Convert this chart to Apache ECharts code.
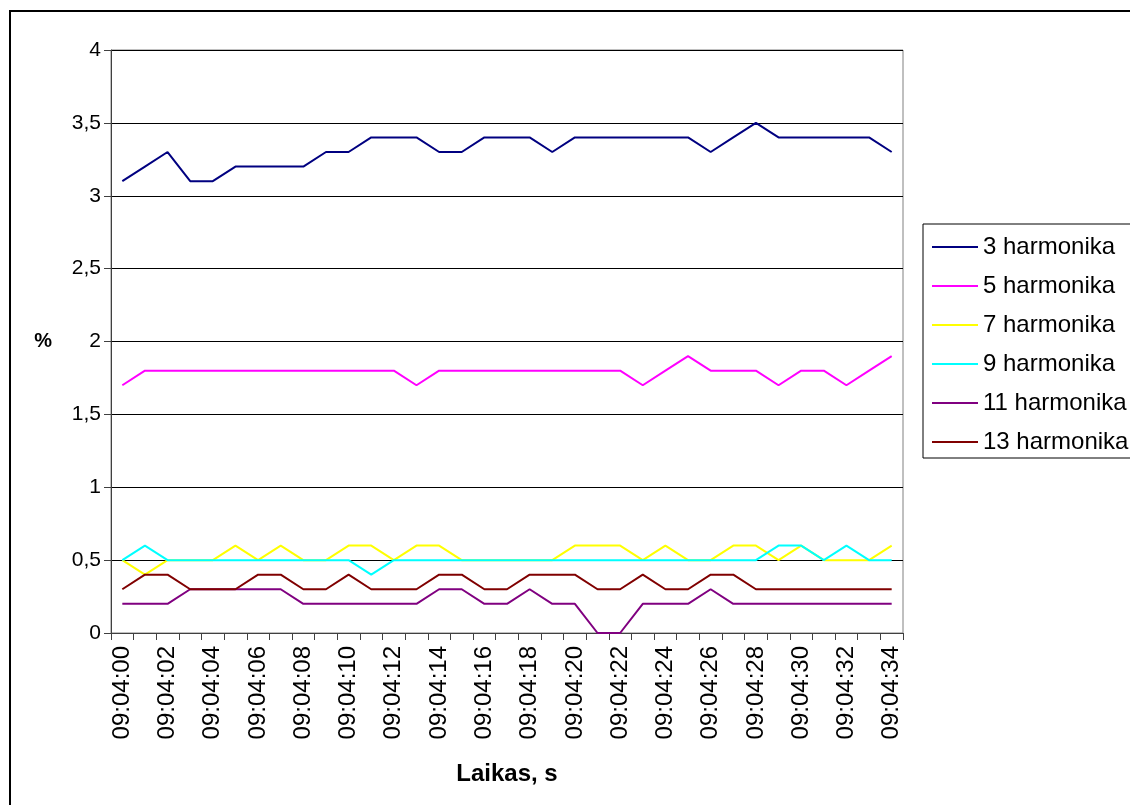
<!DOCTYPE html>
<html>
<head>
<meta charset="utf-8">
<script src="https://cdn.jsdelivr.net/npm/echarts@6/dist/echarts.min.js"></script>
<style>
html,body{margin:0;padding:0;background:#fff;overflow:hidden;}
#frame{position:absolute;left:9px;top:10px;width:1300px;height:1000px;border:2px solid #000;box-sizing:border-box;}
#chart{position:absolute;left:0;top:0;width:1200px;height:805px;}
</style>
</head>
<body>
<div id="frame"></div>
<div id="chart"></div>
<script>
const categories = ["09:04:00","09:04:01","09:04:02","09:04:03","09:04:04","09:04:05","09:04:06","09:04:07","09:04:08","09:04:09",
"09:04:10","09:04:11","09:04:12","09:04:13","09:04:14","09:04:15","09:04:16","09:04:17","09:04:18","09:04:19",
"09:04:20","09:04:21","09:04:22","09:04:23","09:04:24","09:04:25","09:04:26","09:04:27","09:04:28","09:04:29",
"09:04:30","09:04:31","09:04:32","09:04:33","09:04:34"];

const h3  = [3.1,3.2,3.3,3.1,3.1,3.2,3.2,3.2,3.2,3.3,3.3,3.4,3.4,3.4,3.3,3.3,3.4,3.4,3.4,3.3,3.4,3.4,3.4,3.4,3.4,3.4,3.3,3.4,3.5,3.4,3.4,3.4,3.4,3.4,3.3];
const h5  = [1.7,1.8,1.8,1.8,1.8,1.8,1.8,1.8,1.8,1.8,1.8,1.8,1.8,1.7,1.8,1.8,1.8,1.8,1.8,1.8,1.8,1.8,1.8,1.7,1.8,1.9,1.8,1.8,1.8,1.7,1.8,1.8,1.7,1.8,1.9];
const h7  = [0.5,0.4,0.5,0.5,0.5,0.6,0.5,0.6,0.5,0.5,0.6,0.6,0.5,0.6,0.6,0.5,0.5,0.5,0.5,0.5,0.6,0.6,0.6,0.5,0.6,0.5,0.5,0.6,0.6,0.5,0.6,0.5,0.5,0.5,0.6];
const h9  = [0.5,0.6,0.5,0.5,0.5,0.5,0.5,0.5,0.5,0.5,0.5,0.4,0.5,0.5,0.5,0.5,0.5,0.5,0.5,0.5,0.5,0.5,0.5,0.5,0.5,0.5,0.5,0.5,0.5,0.6,0.6,0.5,0.6,0.5,0.5];
const h11 = [0.2,0.2,0.2,0.3,0.3,0.3,0.3,0.3,0.2,0.2,0.2,0.2,0.2,0.2,0.3,0.3,0.2,0.2,0.3,0.2,0.2,0,0,0.2,0.2,0.2,0.3,0.2,0.2,0.2,0.2,0.2,0.2,0.2,0.2];
const h13 = [0.3,0.4,0.4,0.3,0.3,0.3,0.4,0.4,0.3,0.3,0.4,0.3,0.3,0.3,0.4,0.4,0.3,0.3,0.4,0.4,0.4,0.3,0.3,0.4,0.3,0.3,0.4,0.4,0.3,0.3,0.3,0.3,0.3,0.3,0.3];

const seriesNames = ["3 harmonika","5 harmonika","7 harmonika","9 harmonika","11 harmonika","13 harmonika"];
const seriesData = [h3,h5,h7,h9,h11,h13];
const colors = ["#000080","#FF00FF","#FFFF00","#00FFFF","#800080","#800000"];

const font = "'Liberation Sans', Arial, sans-serif";
const chart = echarts.init(document.getElementById('chart'), null, {renderer:'canvas'});
chart.setOption({
  backgroundColor: 'transparent',
  animation: false,
  color: colors,
  grid: {left:111, right:297, top:50, bottom:172, show:true, borderColor:'#808080', borderWidth:1, backgroundColor:'#fff'},
  legend: {
    orient:'vertical', left:923, top:224,
    padding:[10,40,3,9],
    borderColor:'#000', borderWidth:1, backgroundColor:'#fff',
    itemWidth:46, itemHeight:2, itemGap:13,
    icon:'rect',
    textStyle:{fontFamily:font, fontSize:24, color:'#000', lineHeight:26},
    data: seriesNames
  },
  xAxis: {
    type:'category', data:categories, boundaryGap:true,
    name:'Laikas, s', nameLocation:'middle', nameGap:129,
    nameTextStyle:{fontFamily:font, fontSize:24, fontWeight:'bold', color:'#000'},
    axisLine:{lineStyle:{color:'#404040', width:1}},
    axisTick:{show:true, interval:0, length:7, inside:false, lineStyle:{color:'#404040'}},
    axisLabel:{interval:1, rotate:90, margin:13, fontFamily:font, fontSize:24, color:'#000'},
    splitLine:{show:false}
  },
  yAxis: {
    type:'value', min:0, max:4, interval:0.5,
    name:'%', nameLocation:'middle', nameGap:59, nameRotate:0,
    nameTextStyle:{fontFamily:font, fontSize:20, fontWeight:'bold', color:'#000', padding:[6,0,0,0]},
    axisLine:{show:true, lineStyle:{color:'#404040', width:1}},
    axisTick:{show:true, length:7, lineStyle:{color:'#404040'}},
    axisLabel:{margin:10, fontFamily:font, fontSize:21, color:'#000',
      formatter: v => String(v).replace('.', ',')},
    splitLine:{show:true, lineStyle:{color:'#000', width:1}}
  },
  series: seriesNames.map((n,i)=>({
    name:n, type:'line', data:seriesData[i], showSymbol:false, symbol:'none',
    lineStyle:{width:2, color:colors[i]}, itemStyle:{color:colors[i]}
  }))
});
</script>
</body>
</html>
